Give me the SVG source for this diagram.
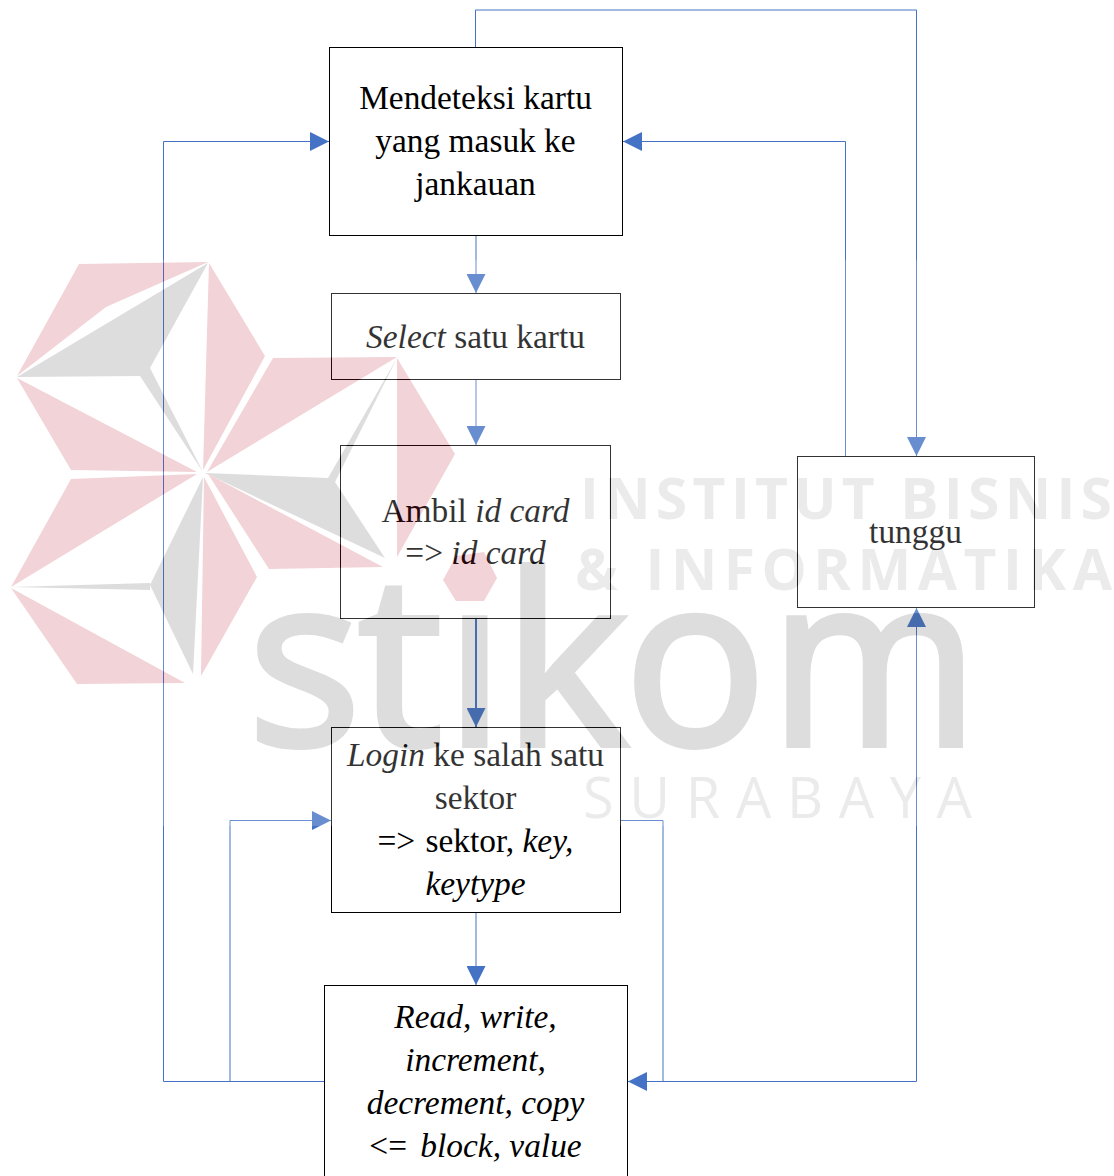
<svg xmlns="http://www.w3.org/2000/svg" width="1114" height="1176" viewBox="0 0 1114 1176">
<defs>
<marker id="arrow" markerUnits="userSpaceOnUse" markerWidth="19" markerHeight="19" refX="19" refY="9.5" orient="auto"><path d="M0 0L19 9.5L0 19Z" fill="#4472c4"/></marker>
</defs>
<style>
.box{fill:none;stroke:#000;stroke-width:1}
.conn{fill:none;stroke:#4472c4;stroke-width:1}
.arr{marker-end:url(#arrow)}
text.t{font-family:"Liberation Serif","Times New Roman",serif;font-size:33.4px;fill:#000;text-anchor:middle}
.i{font-style:italic}
.p{fill:#be2337}
.g{fill:#555}
.wt{font-family:"Open Sans","Noto Sans",sans-serif;fill:#9b9b9b}
.wl{font-family:"Open Sans","Noto Sans",sans-serif;font-size:237px;fill:#555;stroke:#555;stroke-width:6}
</style>
<rect width="1114" height="1176" fill="#fff"/>
<g id="connectors">
<path class="conn arr" d="M476 236V293"/>
<path class="conn arr" d="M476 380V445"/>
<path class="conn arr" d="M476 618V727" style="stroke-width:2"/>
<path class="conn arr" d="M476 912V985"/>
<path class="conn arr" d="M475.500 47V10H916.500V456"/>
<path class="conn arr" d="M845.500 456V141.500H623"/>
<path class="conn arr" d="M324 1081.500H163.500V141.500H329"/>
<path class="conn arr" d="M324 1081.500H230V820.500H331"/>
<path class="conn arr" d="M621 820.500H663V1081.500H628"/>
<path class="conn arr" d="M663 1081.500H916.500V608"/>
</g>
<g id="node-deteksi">
<rect class="box" x="329.500" y="47.500" width="293" height="188"/>
<text class="t" x="475.500" y="108.500">Mendeteksi kartu</text>
<text class="t" x="475.500" y="152">yang masuk ke</text>
<text class="t" x="475.500" y="195">jankauan</text>
</g>
<g id="node-select">
<rect class="box" x="331.500" y="293.500" width="289" height="86"/>
<text class="t" x="475.500" y="348"><tspan class="i">Select</tspan> satu kartu</text>
</g>
<g id="node-ambil">
<rect class="box" x="340.500" y="445.500" width="270" height="173"/>
<text class="t" x="475.500" y="522">Ambil <tspan class="i">id card</tspan></text>
<text class="t" x="475.500" y="564">=&gt; <tspan class="i">id card</tspan></text>
</g>
<g id="node-login">
<rect class="box" x="331.500" y="727.500" width="289" height="185"/>
<text class="t" x="475.500" y="766"><tspan class="i">Login</tspan> ke salah satu</text>
<text class="t" x="475.500" y="809">sektor</text>
<text class="t" x="475.500" y="852">=&gt; <tspan dx="2">sektor, </tspan><tspan class="i">key,</tspan></text>
<text class="t i" x="475.500" y="895">keytype</text>
</g>
<g id="node-operasi">
<rect class="box" x="324.500" y="985.500" width="303" height="200"/>
<text class="t i" x="475.500" y="1028">Read, write,</text>
<text class="t i" x="475.500" y="1071">increment,</text>
<text class="t i" x="475.500" y="1114">decrement, copy</text>
<text class="t" x="475.500" y="1157">&lt;= <tspan class="i" dx="5">block, value</tspan></text>
</g>
<g id="node-tunggu">
<rect class="box" x="797.500" y="456.500" width="237" height="151"/>
<text class="t" x="915.500" y="543">tunggu</text>
</g>
<g id="watermark" opacity="0.2">
<rect x="0" y="260" width="1114" height="566" fill="#fff"/>
<polygon class="p" points="79,264 208,262 106,307 17,376"/>
<polygon class="g" points="208,263 150,368 203,472 140,376 17,377"/>
<polygon class="p" points="17,378 197,472 71,470"/>
<polygon class="p" points="209,263 265,356 203,470"/>
<polygon class="p" points="273,358 397,357 207,472"/>
<polygon class="g" points="205,473 328,478 397,358 335,482 385,558"/>
<polygon class="p" points="397,358 455,454 397,557"/>
<polygon class="p" points="208,474 383,567 269,569"/>
<polygon class="p" points="197,474 71,479 11,587"/>
<polygon class="g" points="11,587 150,583 150,590"/>
<polygon class="g" points="203,477 150,585 193,674"/>
<polygon class="p" points="204,477 257,577 201,676"/>
<polygon class="p" points="11,588 185,683 77,684"/>
<text class="wl" x="248 358 445 503 624" y="745">stiko</text>
<text class="wl" transform="translate(770,745) scale(.95,1)">m</text>
<polygon class="p" points="443,580 456,556 484,552 497,578 484,601 456,601"/>
<text class="wt" font-size="57" font-weight="700" x="580" y="519" textLength="532" lengthAdjust="spacing">INSTITUT BISNIS</text>
<text class="wt" font-size="57" font-weight="700" x="575" y="590" textLength="537" lengthAdjust="spacing">&amp; INFORMATIKA</text>
<text class="wt" font-size="56" x="583" y="818" textLength="389" lengthAdjust="spacing">SURABAYA</text>
</g>
</svg>
